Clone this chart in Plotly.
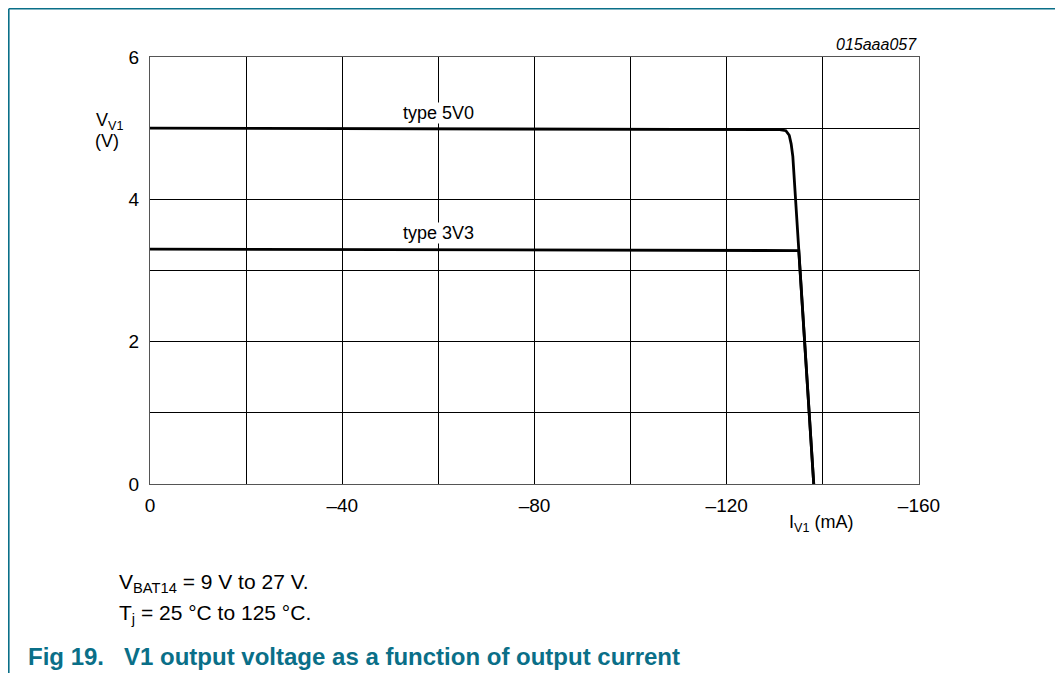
import plotly.graph_objects as go

# Data (I in mA, V in V)
i_5v0 = [0, -40, -80, -120, -131, -132.3, -133.0, -133.4, -133.75, -138.1]
v_5v0 = [5.0, 4.995, 4.99, 4.985, 4.98, 4.965, 4.90, 4.78, 4.6, 0.0]
i_3v3 = [0, -40, -80, -120, -134.98, -138.1]
v_3v3 = [3.30, 3.295, 3.29, 3.285, 3.28, 0.0]

x_major = [0, -40, -80, -120, -160]
x_labels = ["0", "–40", "–80", "–120", "–160"]
x_minor = [0, -20, -40, -60, -80, -100, -120, -140, -160]
y_major = [0, 2, 4, 6]
y_minor = [0, 1, 2, 3, 4, 5, 6]

TEAL = "#0a6f88"
FONT = "Liberation Sans, Arial, sans-serif"

fig = go.Figure()
fig.add_trace(go.Scatter(x=i_5v0, y=v_5v0, mode="lines",
                         line=dict(color="black", width=2.8), name="type 5V0",
                         showlegend=False))
fig.add_trace(go.Scatter(x=i_3v3, y=v_3v3, mode="lines",
                         line=dict(color="black", width=2.8), name="type 3V3",
                         showlegend=False))

# page body has an 8px margin; work in reference pixels and shift
OFF = 8
W, H = 1063 - OFF, 673 - OFF
L, T = 150 - OFF, 57 - OFF
R = W - (919 - OFF)
B = H - (484 - OFF)
pw, ph = W - L - R, H - T - B

def px(x):
    return (x - OFF - L) / pw

def py(y):
    return (H - B - (y - OFF)) / ph

fig.update_layout(
    width=W, height=H,
    margin=dict(l=L, r=R, t=T, b=B),
    paper_bgcolor="white", plot_bgcolor="white",
    font=dict(family=FONT, size=19, color="black"),
    xaxis=dict(range=[0, -160], tickmode="array", tickvals=x_major, ticktext=x_labels,
               showgrid=True, gridcolor="black", gridwidth=1,
               minor=dict(tickmode="array", tickvals=x_minor, showgrid=True,
                          gridcolor="black", gridwidth=1, ticks=""),
               showline=True, linecolor="#555555", linewidth=1, mirror=True,
               zeroline=False, ticks="outside", ticklen=4, tickcolor="rgba(0,0,0,0)",
               tickfont=dict(size=19)),
    yaxis=dict(range=[0, 6], tickmode="array", tickvals=y_major,
               showgrid=True, gridcolor="black", gridwidth=1,
               minor=dict(tickmode="array", tickvals=y_minor, showgrid=True,
                          gridcolor="black", gridwidth=1, ticks=""),
               showline=True, linecolor="#555555", linewidth=1, mirror=True,
               zeroline=False, ticks="outside", ticklen=6, tickcolor="rgba(0,0,0,0)",
               tickfont=dict(size=19)),
)

ann = []
ann.append(dict(x=-60, y=5.21, xref="x", yref="y", text="type 5V0", showarrow=False,
                font=dict(size=18), bgcolor="white", borderpad=0))
ann.append(dict(x=-60, y=3.53, xref="x", yref="y", text="type 3V3", showarrow=False,
                font=dict(size=18), bgcolor="white", borderpad=0))
ann.append(dict(x=px(919), y=py(45), xref="paper", yref="paper", text="<i>015aaa057</i>",
                showarrow=False, xanchor="right", yanchor="middle", font=dict(size=16)))
ann.append(dict(x=px(109), y=py(122), xref="paper", yref="paper", text="V<sub>V1</sub>",
                showarrow=False, xanchor="center", yanchor="middle", font=dict(size=18)))
ann.append(dict(x=px(107), y=py(141), xref="paper", yref="paper", text="(V)",
                showarrow=False, xanchor="center", yanchor="middle", font=dict(size=18)))
ann.append(dict(x=px(787), y=py(523), xref="paper", yref="paper", text="I<sub>V1</sub> (mA)",
                showarrow=False, xanchor="left", yanchor="middle", font=dict(size=18)))
ann.append(dict(x=px(117), y=py(583), xref="paper", yref="paper",
                text="V<sub>BAT14</sub> = 9 V to 27 V.",
                showarrow=False, xanchor="left", yanchor="middle", font=dict(size=21)))
ann.append(dict(x=px(117), y=py(614), xref="paper", yref="paper",
                text="T<sub>j</sub> = 25 °C to 125 °C.",
                showarrow=False, xanchor="left", yanchor="middle", font=dict(size=21)))
ann.append(dict(x=px(26), y=py(656), xref="paper", yref="paper",
                text="<b>Fig 19.\u00a0\u00a0\u00a0V1 output voltage as a function of output current</b>",
                showarrow=False, xanchor="left", yanchor="middle",
                font=dict(size=24, color=TEAL)))
fig.update_layout(annotations=ann)

# Frame around the figure (left, top, right edges)
fx0, fx1, fy0 = px(OFF + 0.8), px(1060), py(OFF + 0.8)
fyb = py(700)
fig.add_shape(type="line", xref="paper", yref="paper", x0=fx0, x1=fx0, y0=fy0, y1=fyb,
              line=dict(color=TEAL, width=1.6))
fig.add_shape(type="line", xref="paper", yref="paper", x0=fx0, x1=fx1, y0=fy0, y1=fy0,
              line=dict(color=TEAL, width=1.6))
fig.add_shape(type="line", xref="paper", yref="paper", x0=fx1, x1=fx1, y0=fy0, y1=fyb,
              line=dict(color=TEAL, width=1.6))

fig.write_html("out.html")
